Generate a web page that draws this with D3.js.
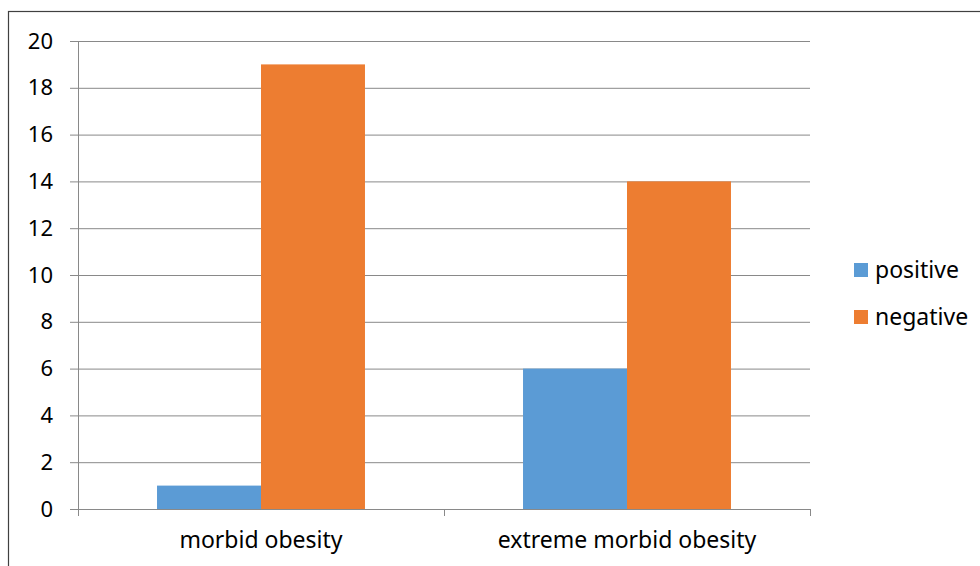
<!DOCTYPE html>
<html>
<head>
<meta charset="utf-8">
<script src="https://cdn.jsdelivr.net/npm/d3@7"></script>
<style>
  body { margin: 0; background: #fff; }
  text { font-family: "Noto Sans", sans-serif; fill: #000; }
</style>
</head>
<body>
<div class="viz"></div>
<script>
// chart values
const categories = ['morbid obesity', 'extreme morbid obesity'];
const seriesNames = ['positive', 'negative'];
const positive = [1, 6];
const negative = [19, 14];
const yTicks = [0, 2, 4, 6, 8, 10, 12, 14, 16, 18, 20];
const colors = ['#5B9BD5', '#ED7D31'];

const W = 980, H = 566;
const margin = {left: 78, right: 170, top: 41, bottom: 57};

const svg = d3.select('.viz').append('svg')
    .attr('width', W)
    .attr('height', H);

// outer frame (right and bottom edges are cut off in the original)
svg.append('rect')
  .attr('x', 8.5).attr('y', 11.5)
  .attr('width', W).attr('height', H)
  .attr('fill', 'none')
  .attr('stroke', '#404040')
  .attr('stroke-width', 1.2);

const y = d3.scaleLinear().domain([0, 20]).range([H - margin.bottom, margin.top]);
const x0 = d3.scaleBand().domain(categories).range([margin.left, W - margin.right]).padding(0);
const x1 = d3.scaleBand().domain(seriesNames).range([0, x0.bandwidth()])
    .paddingInner(0).paddingOuter(0.76);

const table = categories.map((c, i) => ({cat: c, values: [positive[i], negative[i]]}));

// gridlines + y labels
const yAxis = svg.append('g')
    .attr('transform', `translate(${margin.left},0)`)
    .call(d3.axisLeft(y).tickValues(yTicks).tickSize(8).tickPadding(17)
      .tickFormat(d3.format('d')));
yAxis.select('.domain').attr('stroke', '#898989');
yAxis.selectAll('.tick line')
    .attr('x2', W - margin.right - margin.left)
    .attr('x1', -8)
    .attr('stroke', '#898989');
yAxis.selectAll('text').style('font-size', '22px');

// bars
const group = svg.selectAll('g.cat').data(table).enter().append('g')
    .attr('class', 'cat')
    .attr('transform', d => `translate(${x0(d.cat)},0)`);

group.selectAll('rect').data(d => d.values.map((v, i) => ({key: seriesNames[i], v: v, i: i})))
  .enter().append('rect')
    .attr('x', d => x1(d.key))
    .attr('width', x1.bandwidth())
    .attr('y', d => y(d.v))
    .attr('height', d => y(0) - y(d.v))
    .attr('fill', d => colors[d.i]);

// x axis
const xAxis = svg.append('g')
    .attr('transform', `translate(0,${y(0)})`)
    .call(d3.axisBottom(x0).tickSize(0).tickPadding(23));
xAxis.select('.domain').attr('stroke', '#898989');
xAxis.selectAll('text').style('font-size', '23px');

// category separators
const seps = categories.map(c => x0(c)).concat([x0.range()[1]]);
xAxis.selectAll('line.sep').data(seps).enter().append('line')
    .attr('class', 'sep')
    .attr('x1', d => d + 0.5).attr('x2', d => d + 0.5)
    .attr('y1', 0).attr('y2', 7)
    .attr('stroke', '#898989');

// legend
const legend = svg.append('g').attr('transform', 'translate(854,263)');
const item = legend.selectAll('g').data(seriesNames).enter().append('g')
    .attr('transform', (d, i) => `translate(0,${i * 47})`);
item.append('rect')
    .attr('width', 14).attr('height', 14)
    .attr('fill', (d, i) => colors[i]);
item.append('text')
    .attr('x', 21).attr('y', 7)
    .attr('dy', '0.35em')
    .style('font-size', '23px')
    .text(d => d);
</script>
</body>
</html>
